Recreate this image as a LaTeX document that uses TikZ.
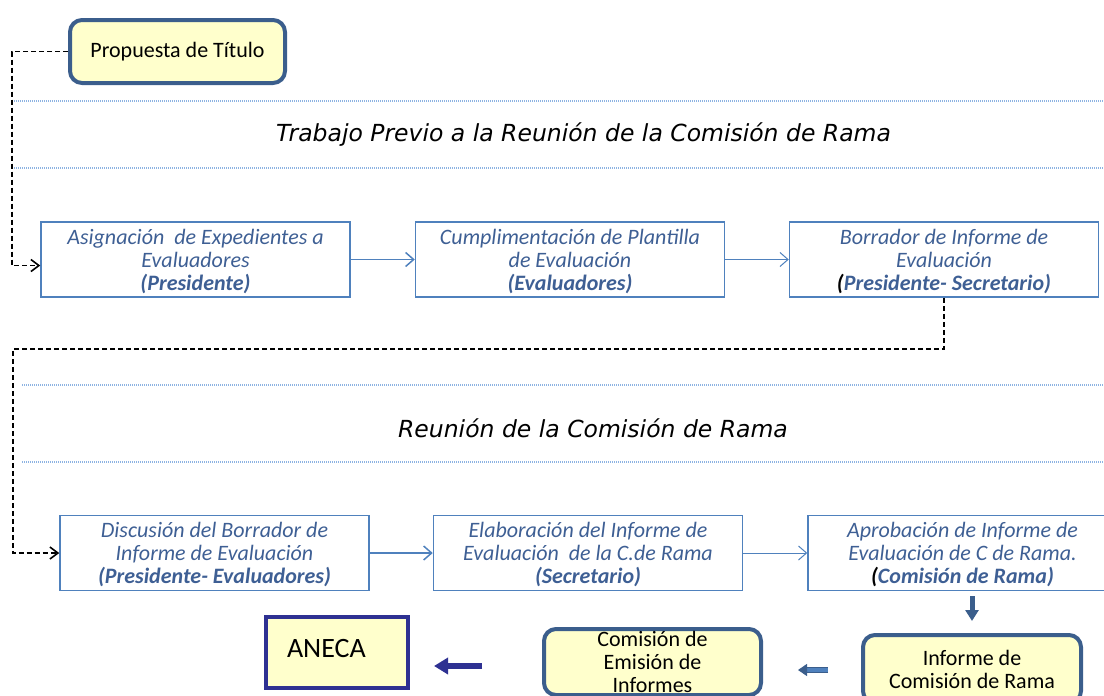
\documentclass[tikz,border=0pt]{standalone}
\usepackage{fontspec}
\setmainfont{Carlito}
\newfontfamily\titlefont{DejaVu Sans Oblique}
\usetikzlibrary{arrows.meta}
\definecolor{boxblue}{RGB}{79,129,189}
\definecolor{txtblue}{RGB}{62,95,148}
\definecolor{darkblue}{RGB}{59,94,140}
\definecolor{paleyellow}{RGB}{255,255,204}
\definecolor{navy}{RGB}{46,49,146}
\definecolor{dotblue}{RGB}{141,179,226}
\tikzset{
  stepbox/.style={draw=boxblue,line width=1.5pt,minimum width=309pt,minimum height=75pt,inner sep=0pt,
    align=center,text=txtblue,text depth=0pt,font=\fontsize{22}{23}\selectfont\itshape},
  notebox/.style={draw=darkblue,fill=paleyellow,line width=4pt,rounded corners=12pt,align=center,
    inner sep=0pt,font=\fontsize{22}{23}\selectfont},
  heading/.style={font=\titlefont\fontsize{23.5}{28}\selectfont},
  sepline/.style={draw=dotblue,line width=1.2pt,dash pattern=on 1pt off 1pt},
  flow/.style={draw=boxblue,line width=1.5pt,-{Straight Barb[length=8pt,width=14pt]}},
  link/.style={line width=1.6pt,dash pattern=on 5pt off 3pt,-{Straight Barb[length=8pt,width=12pt]}},
  fatarrow/.style={draw=darkblue,line width=5pt,-{Triangle[length=11pt,width=13pt]}},
  hollowarrow/.style={draw=darkblue,line width=1.2pt,double=boxblue,double distance=4pt,
    -{Triangle[length=9pt,width=12pt]}},
  navyarrow/.style={draw=navy,line width=6pt,-{Triangle[length=14pt,width=16pt]}}
}
\begin{document}
\begin{tikzpicture}[x=1pt,y=-1pt]
            \useasboundingbox (0,0) rectangle (1104,696);
            \node[notebox,minimum width=215pt,minimum height=63pt] (P) at (177.5,51.5) {\raisebox{-2pt}{Propuesta de Título}};
            \draw[sepline] (12,101) -- (1104,101);
            \node[heading] (T) at (583.5,135) {Trabajo Previo a la Reunión de la Comisión de Rama};
            \draw[sepline] (12,168) -- (1104,168);
            \node[stepbox] (A) at (195.5,259.5) {Asignación~ de Expedientes a\\Evaluadores\\\textbf{(Presidente)}};
            \node[stepbox] (B) at (570,259.5) {Cumplimentación de Plantilla\\de Evaluación\\\textbf{(Evaluadores)}};
            \node[stepbox] (C) at (944,259.5) {Borrador de Informe de\\Evaluación\\\textbf{{\color{black}(}Presidente- Secretario)}};
            \draw[flow] (A) -- (B);
            \draw[flow,line width=1pt] (B) -- (C);
            \draw[link] (P.west) -- ++(-56,0) |- ([yshift=-6pt]A.west);
            \draw[sepline] (22,385) -- (1104,385);
            \node[heading] (R) at (593,428) {Reunión de la Comisión de Rama};
            \draw[sepline] (22,462) -- (1104,462);
            \node[stepbox] (D) at (214.5,553) {Discusión del Borrador de\\Informe de Evaluación\\\textbf{(Presidente- Evaluadores)}};
            \node[stepbox] (E) at (588,553) {Elaboración del Informe de\\Evaluación~ de la C.de Rama\\\textbf{(Secretario)}};
            \node[stepbox] (F) at (962.5,553) {Aprobación de Informe de\\Evaluación de C de Rama.\\\textbf{{\color{black}(}Comisión de Rama)}};
            \draw[flow] (D) -- (E);
            \draw[flow,line width=1pt] (E) -- (F);
            \draw[link] (C.south) -- ++(0,51) -- ++(-931,0) |- (D.west);
            \node[notebox,minimum width=218pt,minimum height=68pt] (I) at (972,669) {Informe de\\Comisión de Rama};
            \node[notebox,minimum width=217pt,minimum height=66pt] (M) at (652.5,662) {Comisión de\\Emisión de\\Informes};
            \node[draw=navy,fill=paleyellow,line width=4pt,minimum width=142pt,minimum height=71pt,
              text width=100pt,align=left,font=\fontsize{28}{30}\selectfont] (N) at (337,652.5) {\raisebox{8pt}{ANECA}};
            \draw[fatarrow,shorten <=5pt,shorten >=12pt] (F.south -| I.north) -- (I.north);
            \draw[hollowarrow,shorten <=33pt,shorten >=35pt] ([yshift=-1pt]I.west) -- ([yshift=-1pt]I.west -| M.east);
            \draw[navyarrow,shorten <=60pt,shorten >=24pt] ([yshift=-4pt]M.west) -- ([yshift=-4pt]M.west -| N.east);
        \end{tikzpicture}
\end{document}
